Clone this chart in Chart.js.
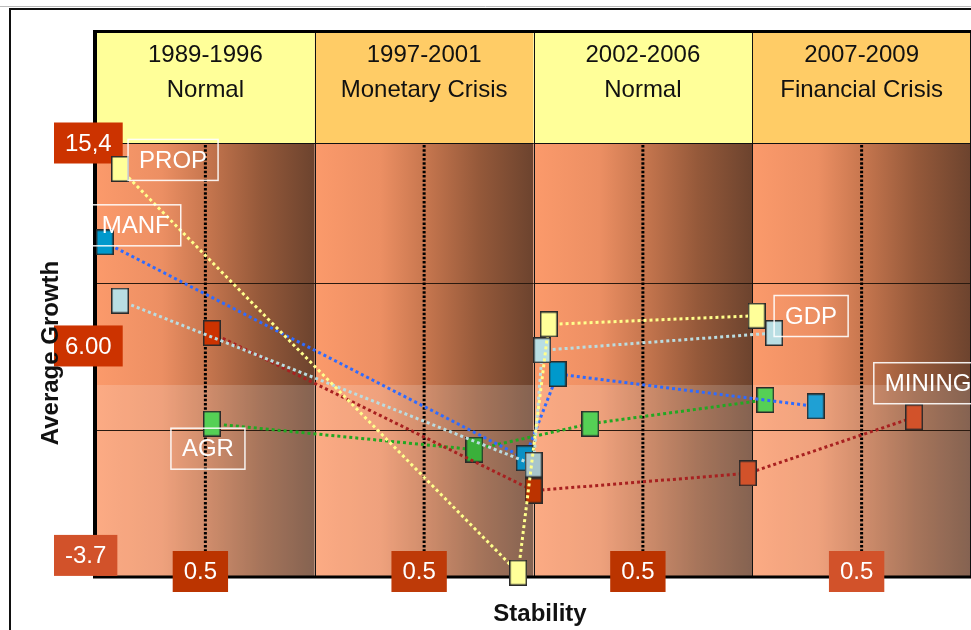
<!DOCTYPE html>
<html>
<head>
<meta charset="utf-8">
<script src="https://cdn.jsdelivr.net/npm/chart.js@4.4.1/dist/chart.umd.min.js"></script>
<style>
html, body { margin: 0; padding: 0; background: #fff; }
#wrap { width: 971px; height: 630px; }
</style>
</head>
<body>
<div id="wrap"><canvas id="growthChart" width="971" height="630"></canvas></div>
<script>
// 期間
var periodnames = ["1989-1996", "1997-2001", "2002-2006", "2007-2009"];
var regimenames = ["Normal", "Monetary Crisis", "Normal", "Financial Crisis"];

// セクター
var sectornames = ["PROP", "MANF", "GDP", "MINING", "AGR"];

// Stability (inside each period, 0..1)
var stabPROP   = [0.11, 0.93, 0.07, 0.02];
var stabMANF   = [0.04, 0.96, 0.11, 0.29];
var stabGDP    = [0.11, 1.00, 0.04, 0.10];
var stabMINING = [0.53, 1.00, 0.98, 0.74];
var stabAGR    = [0.53, 0.73, 0.26, 0.06];

// Average growth
var growPROP   = [14.2, -4.5, 7.0, 7.4];
var growMANF   = [10.8, 0.8, 4.7, 3.2];
var growGDP    = [8.1, 0.5, 5.8, 6.6];
var growMINING = [6.6, -0.7, 0.1, 2.7];
var growAGR    = [2.4, 1.2, 2.4, 3.5];

// ticks
var growthticks = [15.4, 6.00, -3.7];
var growthticklabels = ["15,4", "6.00", "-3.7"];
var stabilitytick = 0.5;
var stabilityticklabel = "0.5";
var growthrows = [2.1, 8.9];

var FONT = '"Liberation Sans", Arial, sans-serif';

// 長方形マーカー
function marker(fill) {
    var c = document.createElement("canvas");
    c.width = 18;
    c.height = 26;
    var g = c.getContext("2d");
    g.fillStyle = fill;
    g.fillRect(1, 1, 16, 24);
    g.strokeStyle = "#2a2a2a";
    g.lineWidth = 1.5;
    g.strokeRect(0.75, 0.75, 16.5, 24.5);
    return c;
}

function series(name, stab, grow, lineColor, markerColors) {
    var pts = [];
    for (var i = 0; i < stab.length; i++) {
        pts.push({x: i + stab[i], y: grow[i]});
    }
    return {
        label: name,
        data: pts,
        borderColor: lineColor,
        borderWidth: 3,
        borderDash: [3, 3],
        pointStyle: markerColors.map(marker),
        pointRadius: 6,
        pointHoverRadius: 6,
        clip: false,
        tension: 0,
        fill: false
    };
}

// ラベル枠 (point index, dx, dy)
var sectorlabelpos = {
    PROP:   [0, 53, -9],
    MANF:   [0, 31, -17],
    GDP:    [3, 37, -17],
    MINING: [3, 14, -34],
    AGR:    [0, -4, 25]
};

var backdrop = {
    id: "backdrop",
    beforeDatasetsDraw: function(chart) {
        var ctx = chart.ctx, a = chart.chartArea;
        var xs = chart.scales.x, ys = chart.scales.y;
        ctx.save();

        // 外枠
        ctx.strokeStyle = "#bbbbbb";
        ctx.lineWidth = 1;
        ctx.beginPath(); ctx.moveTo(0, 6.5); ctx.lineTo(971, 6.5); ctx.stroke();
        ctx.strokeStyle = "#111";
        ctx.lineWidth = 2;
        ctx.beginPath(); ctx.moveTo(10, 630); ctx.lineTo(10, 9); ctx.lineTo(971, 9); ctx.stroke();

        var headTop = 33;
        for (var i = 0; i < periodnames.length; i++) {
            var x0 = xs.getPixelForValue(i), x1 = xs.getPixelForValue(i + 1);
            // header
            ctx.fillStyle = (i % 2 === 0) ? "#FFFF99" : "#FFCC66";
            ctx.fillRect(x0, headTop, x1 - x0, a.top - headTop);
            ctx.fillStyle = "#111";
            ctx.font = "24px " + FONT;
            ctx.textAlign = "center";
            ctx.textBaseline = "alphabetic";
            ctx.fillText(periodnames[i], (x0 + x1) / 2, 62);
            ctx.fillText(regimenames[i], (x0 + x1) / 2, 97);

            // 背景グラデーション
            var gr = ctx.createLinearGradient(x0, 0, x1, 0);
            gr.addColorStop(0, "#FB9A6B");
            gr.addColorStop(0.3, "#EC8F63");
            gr.addColorStop(0.5, "#C8774F");
            gr.addColorStop(0.75, "#95593A");
            gr.addColorStop(1, "#6C432E");
            ctx.fillStyle = gr;
            ctx.fillRect(x0, a.top, x1 - x0, a.bottom - a.top);
        }

        // watermark band
        ctx.fillStyle = "rgba(255,255,255,0.17)";
        ctx.fillRect(a.left, 385, a.right - a.left, a.bottom - 385);

        // grid
        ctx.strokeStyle = "#2a1a10";
        ctx.lineWidth = 1;
        growthrows.forEach(function(v) {
            var y = Math.round(ys.getPixelForValue(v)) + 0.5;
            ctx.beginPath(); ctx.moveTo(a.left, y); ctx.lineTo(a.right, y); ctx.stroke();
        });
        ctx.strokeStyle = "#111";
        for (var k = 1; k < periodnames.length; k++) {
            var xd = Math.round(xs.getPixelForValue(k)) + 0.5;
            ctx.beginPath(); ctx.moveTo(xd, headTop); ctx.lineTo(xd, a.bottom); ctx.stroke();
        }
        ctx.beginPath(); ctx.moveTo(a.left, a.top + 0.5); ctx.lineTo(a.right, a.top + 0.5); ctx.stroke();
        ctx.beginPath(); ctx.moveTo(970.5, headTop); ctx.lineTo(970.5, a.bottom); ctx.stroke();

        // 0.5 dotted lines
        ctx.strokeStyle = "#000";
        ctx.lineWidth = 3;
        ctx.setLineDash([2.5, 1.8]);
        for (var j = 0; j < periodnames.length; j++) {
            var xm = xs.getPixelForValue(j + stabilitytick);
            ctx.beginPath(); ctx.moveTo(xm, a.top + 2); ctx.lineTo(xm, a.bottom - 20); ctx.stroke();
        }
        ctx.setLineDash([]);

        // 太枠
        ctx.strokeStyle = "#000";
        ctx.lineWidth = 3;
        ctx.beginPath(); ctx.moveTo(93, headTop - 1.5); ctx.lineTo(971, headTop - 1.5); ctx.stroke();
        ctx.lineWidth = 4;
        ctx.beginPath(); ctx.moveTo(a.left - 1, headTop - 3); ctx.lineTo(a.left - 1, a.bottom + 1); ctx.stroke();
        ctx.lineWidth = 3;
        ctx.beginPath(); ctx.moveTo(a.left - 3, a.bottom); ctx.lineTo(971, a.bottom); ctx.stroke();

        // tick boxes
        ctx.font = "24px " + FONT;
        ctx.textBaseline = "middle";
        ctx.textAlign = "center";
        var ycols = ["#CC3300", "#CC3300", "#D2522A"];
        growthticks.forEach(function(v, n) {
            var y = ys.getPixelForValue(v);
            var w = ctx.measureText(growthticklabels[n]).width + 22;
            ctx.fillStyle = ycols[n];
            ctx.fillRect(54, y - 20.5, w, 41);
            ctx.fillStyle = "#fff";
            ctx.fillText(growthticklabels[n], 54 + w / 2, y + 1);
        });
        var xcols = ["#BB3400", "#BE3A08", "#BB3400", "#D2522A"];
        for (var m = 0; m < periodnames.length; m++) {
            var xt = xs.getPixelForValue(m + stabilitytick) - 5;
            var wt = ctx.measureText(stabilityticklabel).width + 22;
            ctx.fillStyle = xcols[m];
            ctx.fillRect(xt - wt / 2, a.bottom - 26, wt, 41);
            ctx.fillStyle = "#fff";
            ctx.fillText(stabilityticklabel, xt, a.bottom - 5);
        }

        // axis titles
        ctx.fillStyle = "#111";
        ctx.font = "bold 24px " + FONT;
        ctx.fillText("Stability", 540, 614);
        ctx.save();
        ctx.translate(51, 353);
        ctx.rotate(-Math.PI / 2);
        ctx.fillText("Average Growth", 0, 0);
        ctx.restore();

        ctx.restore();
    },
    afterDatasetsDraw: function(chart) {
        var ctx = chart.ctx;
        ctx.save();
        ctx.font = "24px " + FONT;
        ctx.textAlign = "center";
        ctx.textBaseline = "middle";
        chart.data.datasets.forEach(function(ds, di) {
            var pos = sectorlabelpos[ds.label];
            var el = chart.getDatasetMeta(di).data[pos[0]];
            var cx = el.x + pos[1], cy = el.y + pos[2];
            var w = ctx.measureText(ds.label).width + 22;
            ctx.strokeStyle = "rgba(255,255,255,0.9)";
            ctx.lineWidth = 1.5;
            ctx.strokeRect(cx - w / 2, cy - 20.5, w, 41);
            ctx.fillStyle = "#fff";
            ctx.fillText(ds.label, cx, cy + 1);
        });
        ctx.restore();
    }
};

var ctx1 = document.getElementById("growthChart");

var growthChart = new Chart(ctx1, {
    type: "line",
    data: {
        datasets: [
            series("PROP", stabPROP, growPROP, "#FFFF8C", ["#FFFF99", "#FFFF99", "#FFFF99", "#FFFF99"]),
            series("GDP", stabGDP, growGDP, "#BADCE0", ["#B9DEE3", "#A9C6CB", "#B9DEE3", "#B9DEE3"]),
            series("MANF", stabMANF, growMANF, "#2F6BFF", ["#0099CC", "#0A90C4", "#0099CC", "#1FA0D4"]),
            series("MINING", stabMINING, growMINING, "#A82020", ["#CC3300", "#BB3300", "#D2522A", "#D2522A"]),
            series("AGR", stabAGR, growAGR, "#22A822", ["#55D055", "#3AB03A", "#55D055", "#55D055"])
        ]
    },
    options: {
        responsive: false,
        animation: false,
        events: [],
        layout: {
            autoPadding: false,
            padding: {left: 96, right: 0, top: 143, bottom: 53}
        },
        scales: {
            x: {type: "linear", min: 0, max: 4, display: false},
            y: {type: "linear", min: -4.7, max: 15.4, display: false}
        },
        plugins: {
            legend: {display: false},
            tooltip: {enabled: false}
        }
    },
    plugins: [backdrop]
});
</script>
</body>
</html>
